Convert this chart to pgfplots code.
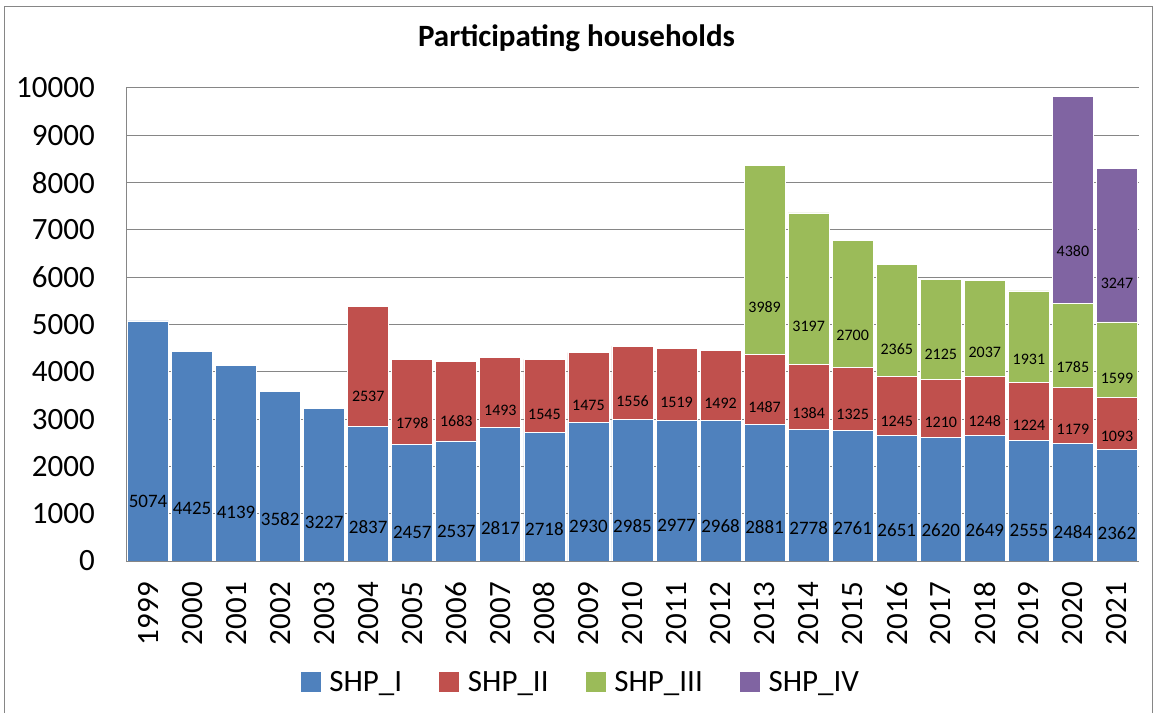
\documentclass[border=0pt]{standalone}
\usepackage{pgfplots}
\pgfplotsset{compat=1.18}
\usepackage{pgfplotstable}
\usepackage{fontspec}
\setmainfont{Carlito}
\definecolor{c1}{HTML}{4F81BD}
\definecolor{c2}{HTML}{C0504D}
\definecolor{c3}{HTML}{9BBB59}
\definecolor{c4}{HTML}{8064A2}
\definecolor{gridc}{HTML}{868686}
\pgfplotstableread{
x a b c d
0 5074 0 0 0
1 4425 0 0 0
2 4139 0 0 0
3 3582 0 0 0
4 3227 0 0 0
5 2837 2537 0 0
6 2457 1798 0 0
7 2537 1683 0 0
8 2817 1493 0 0
9 2718 1545 0 0
10 2930 1475 0 0
11 2985 1556 0 0
12 2977 1519 0 0
13 2968 1492 0 0
14 2881 1487 3989 0
15 2778 1384 3197 0
16 2761 1325 2700 0
17 2651 1245 2365 0
18 2620 1210 2125 0
19 2649 1248 2037 0
20 2555 1224 1931 0
21 2484 1179 1785 4380
22 2362 1093 1599 3247
}\data
\begin{document}
\begin{tikzpicture}
\path[use as bounding box] (0,0) rectangle (1156bp,713bp);
\draw[gridc, line width=1bp] (4.5bp,-10bp) -- (4.5bp,706.5bp) -- (1152.5bp,706.5bp) -- (1152.5bp,-10bp);
\node[anchor=base, inner sep=0pt, font=\bfseries\fontsize{31bp}{31bp}\selectfont] at (576.5bp,666bp) {Participating households};
\begin{axis}[
  at={(126bp,152bp)}, anchor=south west,
  width=1013bp, height=473bp, scale only axis,
  ybar stacked, bar width=41bp,
  xmin=-0.5, xmax=22.5, ymin=0, ymax=10000,
  xtick={0,1,...,22},
  xticklabels={1999,2000,2001,2002,2003,2004,2005,2006,2007,2008,2009,2010,2011,2012,2013,2014,2015,2016,2017,2018,2019,2020,2021},
  ytick={0,1000,...,10000},
  scaled y ticks=false,
  major tick length=0pt,
  axis x line*=bottom, axis y line*=left,
  axis line style={-, gridc, line width=1bp},
  ymajorgrids, major grid style={gridc, line width=1bp},
  /pgf/number format/assume math mode=true,
  /pgf/number format/1000 sep={},
  tick label style={font=\fontsize{31bp}{31bp}\selectfont, inner sep=0pt},
  xticklabel style={rotate=90, anchor=east},
  yticklabel style={anchor=east},
  xticklabel shift=21bp, yticklabel shift=31bp,
  point meta=explicit,
  nodes near coords={\pgfmathfloatifflags{\pgfplotspointmeta}{0}{}{\pgfmathprintnumber[fixed,precision=0,1000 sep={}]{\pgfplotspointmeta}}},
  nodes near coords align={center},
  legend columns=4,
  legend style={at={(0.448,-0.256)}, anchor=center, draw=none, fill=none,
    font=\fontsize{31bp}{31bp}\selectfont, nodes={inner sep=0pt},
    /tikz/every odd column/.append style={column sep=9bp},
    /tikz/every even column/.append style={column sep=37bp}},
]
\addplot[fill=c1, draw=white, line width=0.8bp,
  visualization depends on={\thisrow{a} \as \segh},
  every node near coord/.append style={anchor=center, yshift={-0.0118695*\segh}, font=\fontsize{19bp}{19bp}\selectfont, text=black},
  legend image code/.code={\fill[c1] (0bp,-9.5bp) rectangle (19bp,9.5bp);}]
  table[x=x, y=a, meta=a] {\data};
\addlegendentry{SHP\_I}
\addplot[fill=c2, draw=white, line width=0.8bp,
  visualization depends on={\thisrow{b} \as \segh},
  every node near coord/.append style={anchor=center, yshift={-0.0118695*\segh}, font=\fontsize{16bp}{16bp}\selectfont, text=black},
  legend image code/.code={\fill[c2] (0bp,-9.5bp) rectangle (19bp,9.5bp);}]
  table[x=x, y=b, meta=b] {\data};
\addlegendentry{SHP\_II}
\addplot[fill=c3, draw=white, line width=0.8bp,
  visualization depends on={\thisrow{c} \as \segh},
  every node near coord/.append style={anchor=center, yshift={-0.0118695*\segh}, font=\fontsize{16bp}{16bp}\selectfont, text=black},
  legend image code/.code={\fill[c3] (0bp,-9.5bp) rectangle (19bp,9.5bp);}]
  table[x=x, y=c, meta=c] {\data};
\addlegendentry{SHP\_III}
\addplot[fill=c4, draw=white, line width=0.8bp,
  visualization depends on={\thisrow{d} \as \segh},
  every node near coord/.append style={anchor=center, yshift={-0.0118695*\segh}, font=\fontsize{16bp}{16bp}\selectfont, text=black},
  legend image code/.code={\fill[c4] (0bp,-9.5bp) rectangle (19bp,9.5bp);}]
  table[x=x, y=d, meta=d] {\data};
\addlegendentry{SHP\_IV}
\end{axis}
\end{tikzpicture}
\end{document}
